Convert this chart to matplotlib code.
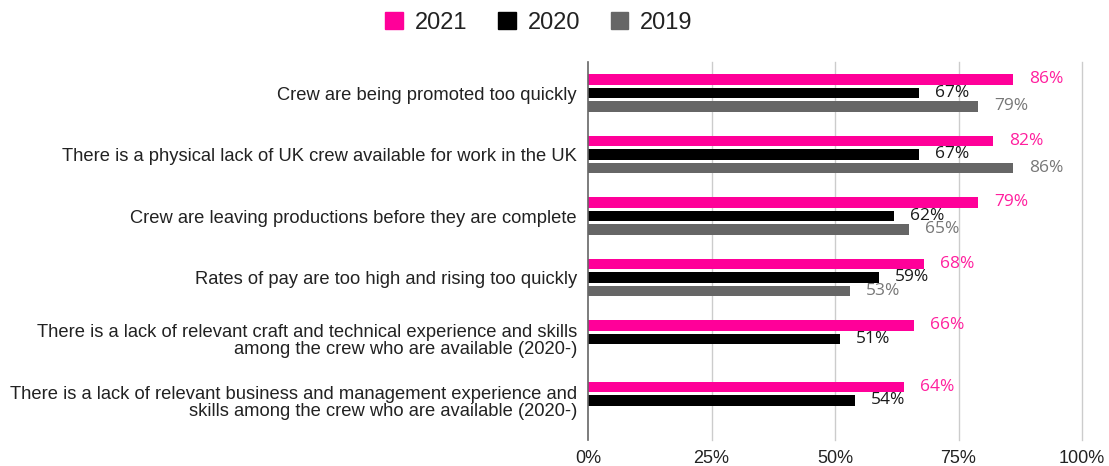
import numpy as np
import matplotlib
matplotlib.use('Agg')
import matplotlib.pyplot as plt
from matplotlib.patches import Patch

# Survey statements and share of respondents agreeing, per year
categories = [
    "Crew are being promoted too quickly",
    "There is a physical lack of UK crew available for work in the UK",
    "Crew are leaving productions before they are complete",
    "Rates of pay are too high and rising too quickly",
    "There is a lack of relevant craft and technical experience and skills\namong the crew who are available (2020-)",
    "There is a lack of relevant business and management experience and\nskills among the crew who are available (2020-)",
]
years = ["2021", "2020", "2019"]
vals_2021 = [86, 82, 79, 68, 66, 64]
vals_2020 = [67, 67, 62, 59, 51, 54]
vals_2019 = [79, 86, 65, 53, None, None]
xticks = [0, 25, 50, 75, 100]

bar_colors = ["#ff0099", "#000000", "#666666"]
label_colors = ["#ff1f9e", "#1a1a1a", "#777777"]

plt.rcParams['font.family'] = ['Liberation Sans', 'DejaVu Sans']

fig = plt.figure(figsize=(11.09, 4.66), dpi=100)
ax = fig.add_axes([588 / 1109, 1 - 440 / 466, 494 / 1109, 378 / 466])

y = np.arange(len(categories))
bar_h = 0.17
step = 0.22

for k, series in enumerate([vals_2021, vals_2020, vals_2019]):
    for i, v in enumerate(series):
        if v is None:
            continue
        yy = y[i] + (k - 1) * step
        ax.barh(yy, v, height=bar_h, color=bar_colors[k], zorder=3)
        ax.text(v + 3.2, yy - 0.005, f"{v}%", color=label_colors[k],
                fontsize=12.5, family=['Open Sans', 'DejaVu Sans'],
                va='center', ha='left', zorder=4)

ax.set_xlim(0, 100)
ax.set_ylim(5.64, -0.504)
ax.set_xticks(xticks)
ax.set_xticklabels([f"{t}%" for t in xticks], fontsize=13, color="#222222")
ax.set_yticks(y)
ax.set_yticklabels(categories, fontsize=13.2, color="#222222", linespacing=1.0)
ax.tick_params(axis='both', length=0)
ax.tick_params(axis='y', pad=8)
ax.tick_params(axis='x', pad=7)

# vertical gridlines, drawn unclipped so the 100% line shows fully
for t in xticks[1:]:
    ax.axvline(t, color='#cccccc', linewidth=1, zorder=0, clip_on=False)
for s in ['top', 'right', 'bottom']:
    ax.spines[s].set_visible(False)
ax.spines['left'].set_color('#666666')
ax.spines['left'].set_linewidth(1.2)
ax.spines['left'].set_zorder(5)

handles = [Patch(facecolor=c, edgecolor=c) for c in bar_colors]
fig.legend(handles, years, loc='center', bbox_to_anchor=(539 / 1109, 1 - 23 / 466),
           ncol=3, frameon=False, fontsize=17, handlelength=0.75, handleheight=0.75,
           handletextpad=0.5, columnspacing=1.3, labelcolor="#222222")

fig.savefig('out.png', dpi=100)
plt.close(fig)
